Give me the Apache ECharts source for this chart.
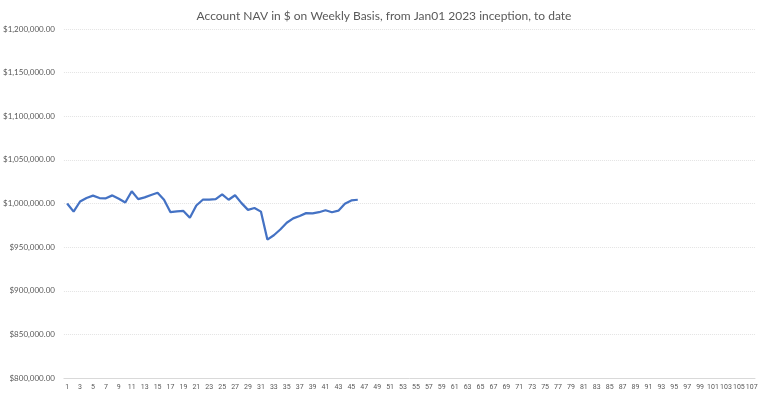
<!DOCTYPE html>
<html>
<head>
<meta charset="utf-8">
<script src="https://cdn.jsdelivr.net/npm/echarts@6/dist/echarts.min.js"></script>
<style>
html,body{margin:0;padding:0;background:#fff;}
#chart{width:768px;height:393px;}
</style>
</head>
<body>
<div id="chart"></div>
<script>
const titleText = 'Account NAV in $ on Weekly Basis, from Jan01 2023 inception, to date';
const weeks = [];
for (let i = 1; i <= 107; i++) weeks.push(String(i));
const navValues = [
  1000000, 990700, 1002300, 1006300, 1009000, 1006300, 1006000, 1009300, 1005500, 1001200,
  1014000, 1005000, 1007000, 1009800, 1012300, 1004300, 990000, 991100, 991500, 983700,
  997700, 1004300, 1004500, 1005000, 1010500, 1004300, 1009500, 1000400, 992700, 994800,
  990700, 958600, 963600, 970200, 977900, 983000, 985700, 989000, 988600, 990000,
  992300, 990000, 991800, 999700, 1003500, 1004300
];
const yMin = 800000, yMax = 1200000, yStep = 50000;

function money(v) {
  const s = Math.round(v).toString().replace(/\B(?=(\d{3})+(?!\d))/g, ',');
  return '$' + s + '.00';
}

const chart = echarts.init(document.getElementById('chart'));
chart.setOption({
  animation: false,
  backgroundColor: '#ffffff',
  title: {
    text: titleText,
    left: 'center',
    top: 5,
    textStyle: { fontFamily: 'Lato', fontSize: 12, fontWeight: 'normal', color: '#595959' }
  },
  grid: { left: 62, right: 13, top: 29, bottom: 15, containLabel: false },
  xAxis: {
    type: 'category',
    data: weeks,
    boundaryGap: true,
    axisLine: { show: true, lineStyle: { color: '#d9d9d9' } },
    axisTick: { show: false },
    axisLabel: { interval: 1, hideOverlap: false, color: '#595959', fontFamily: 'Roboto', fontSize: 7, margin: 6 }
  },
  yAxis: {
    type: 'value',
    min: yMin, max: yMax, interval: yStep,
    axisLine: { show: false },
    axisTick: { show: false },
    splitLine: { lineStyle: { color: '#e3e3e3', type: 'dotted', width: 1 } },
    axisLabel: { color: '#595959', fontFamily: 'Lato', fontSize: 8, margin: 9, formatter: money }
  },
  series: [{
    type: 'line',
    data: navValues,
    symbol: 'none',
    lineStyle: { color: '#4472C4', width: 2.25 },
    itemStyle: { color: '#4472C4' }
  }]
});
</script>
</body>
</html>
